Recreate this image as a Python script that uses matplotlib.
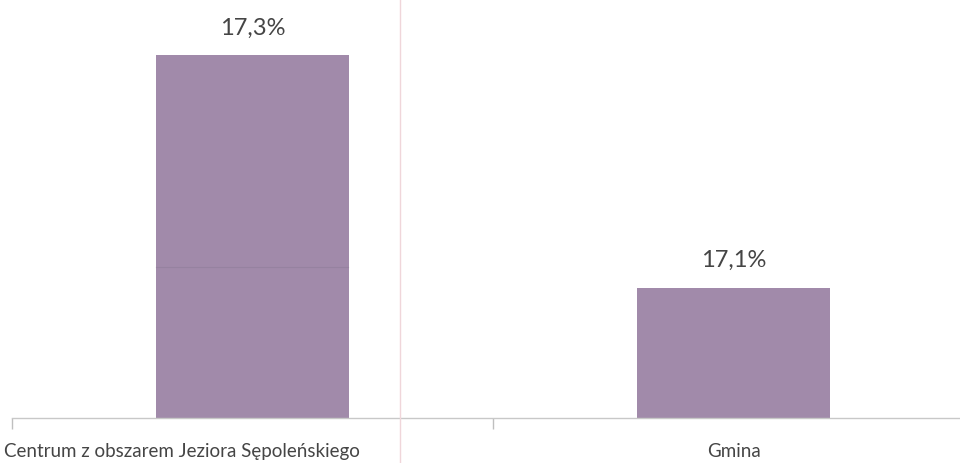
import matplotlib
matplotlib.use("Agg")
import matplotlib.pyplot as plt
import matplotlib.transforms as mtransforms
from matplotlib.ticker import FixedLocator, NullFormatter

categories = ["Centrum z obszarem Jeziora Sępoleńskiego", "Gmina"]
values = [17.3, 17.1]
value_labels = ["17,3%", "17,1%"]

plt.rcParams['font.family'] = ['Lato', 'DejaVu Sans']

W, H = 960, 464
fig = plt.figure(figsize=(W / 100, H / 100), dpi=100)
ax = fig.add_axes([12 / W, (H - 419) / H, 962 / W, 419 / H])

x = list(range(len(categories)))
ax.bar(x, values, width=0.4, color="#a18aaa")
ax.set_xlim(-0.5, 1.5)
ax.set_ylim(16.988, 17.348)

for xi, v, lab in zip(x, values, value_labels):
    ax.annotate(lab, (xi, v), xytext=(0, 28), textcoords="offset pixels",
                ha="center", va="center", fontsize=17, color="#454545")

ax.set_xticks(x)
ax.set_xticklabels(categories, fontsize=13.5, color="#454545")
ax.tick_params(axis="x", which="major", length=0, pad=17)
ax.xaxis.set_minor_locator(FixedLocator([-0.5, 0.5, 1.5]))
ax.xaxis.set_minor_formatter(NullFormatter())
ax.tick_params(axis="x", which="minor", length=8, color="#bfbfbf", width=1)
ax.set_yticks([])
for s in ["top", "right", "left"]:
    ax.spines[s].set_visible(False)
ax.spines["bottom"].set_color("#c8c8c8")
ax.spines["bottom"].set_linewidth(1)

# first category label sits left of its bar in the reference
lbl = ax.get_xticklabels()[0]
lbl.set_transform(lbl.get_transform() + mtransforms.ScaledTranslation(-0.71, 0, fig.dpi_scale_trans))

# faint scan artefacts
fig.add_artist(plt.Line2D([400 / W, 400 / W], [0, 1], transform=fig.transFigure,
                          color="#f0d6da", lw=1))
fig.add_artist(plt.Line2D([156 / W, 348 / W], [1 - 268 / H, 1 - 268 / H],
                          transform=fig.transFigure, color="#9682a0", lw=0.8))

fig.savefig("out.png", dpi=100)
